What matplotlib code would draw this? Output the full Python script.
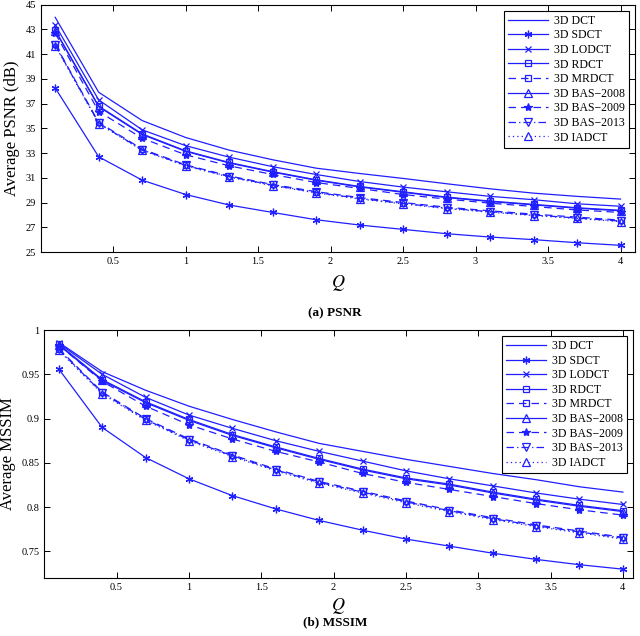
import matplotlib
matplotlib.use("Agg")
import matplotlib.pyplot as plt

plt.rcParams['font.family'] = ['Liberation Serif', 'DejaVu Serif']
plt.rcParams['mathtext.fontset'] = 'stix'

Q = [0.1, 0.4, 0.7, 1.0, 1.3, 1.6, 1.9, 2.2, 2.5, 2.8, 3.1, 3.4, 3.7, 4.0]
methods = ["3D DCT", "3D SDCT", "3D LODCT", "3D RDCT", "3D MRDCT",
           "3D BAS\u22122008", "3D BAS\u22122009", "3D BAS\u22122013", "3D IADCT"]

psnr_dct = [43.98, 37.92, 35.63, 34.26, 33.24, 32.46, 31.78, 31.35, 30.95, 30.52, 30.11, 29.76, 29.50, 29.28]
psnr_sdct = [38.27, 32.70, 30.81, 29.65, 28.80, 28.20, 27.61, 27.18, 26.83, 26.48, 26.21, 26.00, 25.75, 25.54]
psnr_lodct = [43.36, 37.30, 34.88, 33.60, 32.67, 31.90, 31.27, 30.70, 30.25, 29.87, 29.50, 29.23, 28.90, 28.70]
psnr_rdct = [42.95, 36.80, 34.55, 33.18, 32.24, 31.50, 30.84, 30.30, 29.87, 29.44, 29.12, 28.85, 28.58, 28.37]
psnr_mrdct = [41.80, 35.48, 33.32, 32.05, 31.15, 30.46, 29.88, 29.40, 29.00, 28.62, 28.33, 28.06, 27.82, 27.58]
psnr_bas08 = [42.90, 36.75, 34.50, 33.14, 32.20, 31.46, 30.80, 30.26, 29.83, 29.40, 29.08, 28.81, 28.54, 28.33]
psnr_bas09 = [42.70, 36.36, 34.20, 32.86, 31.97, 31.27, 30.62, 30.14, 29.65, 29.28, 28.95, 28.68, 28.40, 28.20]
psnr_bas13 = [41.74, 35.42, 33.26, 32.00, 31.10, 30.40, 29.82, 29.33, 28.93, 28.55, 28.26, 27.99, 27.75, 27.50]
psnr_iadct = [41.70, 35.38, 33.22, 31.96, 31.06, 30.36, 29.78, 29.29, 28.89, 28.51, 28.22, 27.95, 27.71, 27.46]

ssim_dct = [0.986, 0.953, 0.932, 0.914, 0.899, 0.885, 0.872, 0.863, 0.854, 0.846, 0.838, 0.831, 0.823, 0.817]
ssim_sdct = [0.956, 0.890, 0.856, 0.832, 0.813, 0.798, 0.785, 0.774, 0.764, 0.756, 0.748, 0.741, 0.735, 0.730]
ssim_lodct = [0.985, 0.950, 0.924, 0.904, 0.889, 0.875, 0.863, 0.852, 0.841, 0.832, 0.824, 0.816, 0.809, 0.803]
ssim_rdct = [0.984, 0.944, 0.919, 0.899, 0.882, 0.868, 0.855, 0.843, 0.833, 0.826, 0.817, 0.809, 0.802, 0.796]
ssim_mrdct = [0.979, 0.930, 0.900, 0.877, 0.859, 0.843, 0.829, 0.818, 0.807, 0.797, 0.788, 0.780, 0.773, 0.766]
ssim_bas08 = [0.983, 0.943, 0.918, 0.898, 0.881, 0.867, 0.854, 0.842, 0.832, 0.825, 0.816, 0.808, 0.801, 0.795]
ssim_bas09 = [0.983, 0.942, 0.914, 0.893, 0.877, 0.863, 0.851, 0.838, 0.828, 0.820, 0.812, 0.804, 0.797, 0.791]
ssim_bas13 = [0.978, 0.929, 0.899, 0.876, 0.858, 0.842, 0.828, 0.817, 0.806, 0.796, 0.787, 0.779, 0.772, 0.765]
ssim_iadct = [0.977, 0.928, 0.898, 0.875, 0.857, 0.841, 0.827, 0.816, 0.805, 0.795, 0.786, 0.778, 0.771, 0.764]

psnr = [psnr_dct, psnr_sdct, psnr_lodct, psnr_rdct, psnr_mrdct, psnr_bas08, psnr_bas09, psnr_bas13, psnr_iadct]
ssim = [ssim_dct, ssim_sdct, ssim_lodct, ssim_rdct, ssim_mrdct, ssim_bas08, ssim_bas09, ssim_bas13, ssim_iadct]

BLUE = '#1f1fff'
asterisk = (6, 2, 0)
styles = [
    dict(ls='-', marker=None),
    dict(ls='-', marker=asterisk, ms=5.5),
    dict(ls='-', marker='x', ms=4.5),
    dict(ls='-', marker='s', ms=5, mfc='none'),
    dict(ls=(0, (6, 4)), marker='s', ms=5, mfc='none'),
    dict(ls='-', marker='^', ms=6, mfc='none'),
    dict(ls=(0, (6, 4)), marker='*', ms=6),
    dict(ls=(0, (6, 2.5, 1, 2.5)), marker='v', ms=6, mfc='none'),
    dict(ls=(0, (1, 2.5)), marker='^', ms=6, mfc='none'),
]

fig = plt.figure(figsize=(6.4, 6.36), dpi=100)
ax1 = fig.add_axes([40.7/640, 1-252/636, (635-40.7)/640, (252-4.7)/636])
ax2 = fig.add_axes([44.3/640, 1-578/636, (633-44.3)/640, (578-330)/636])

def draw(ax, data, ylim, yticks, ylabel, xlim_right, xpad):
    for name, vals, st in zip(methods, data, styles):
        ax.plot(Q, vals, color=BLUE, lw=0.9, mew=0.9, label=name, **st)
    ax.set_xlim(0, xlim_right)
    ax.set_ylim(*ylim)
    ax.set_xticks([0.5, 1, 1.5, 2, 2.5, 3, 3.5, 4])
    ax.set_xticklabels(['0.5', '1', '1.5', '2', '2.5', '3', '3.5', '4'])
    ax.set_yticks(yticks)
    ax.tick_params(direction='in', top=True, right=True, labelsize=7.5, length=4, width=0.7)
    for s in ax.spines.values():
        s.set_linewidth(0.8)
    ax.set_ylabel(ylabel, fontsize=12, labelpad=4)
    ax.set_xlabel('$Q$', fontsize=13, labelpad=xpad)
    leg = ax.legend(loc='upper right', fontsize=8.5, handlelength=3.4, labelspacing=0.22,
                    borderpad=0.35, handletextpad=0.5, fancybox=False, framealpha=1,
                    edgecolor='black', borderaxespad=0.5)
    leg.get_frame().set_linewidth(0.8)

draw(ax1, psnr, (25, 45), list(range(25, 46, 2)), 'Average PSNR (dB)', 4.1, 5)
ax1.set_yticklabels([str(v) for v in range(25, 46, 2)])
draw(ax2, ssim, (0.72, 1.0), [0.75, 0.8, 0.85, 0.9, 0.95, 1.0], 'Average MSSIM', 4.07, 3)
ax2.set_yticklabels(['0.75', '0.8', '0.85', '0.9', '0.95', '1'])

fig.text(0.5 + 15/640, 1-313/636, '(a) PSNR', ha='center', va='center', fontsize=9.5, fontweight='bold')
fig.text(0.5 + 15/640, 1-622/636, '(b) MSSIM', ha='center', va='center', fontsize=9.5, fontweight='bold')

fig.savefig('out.png', dpi=100)
